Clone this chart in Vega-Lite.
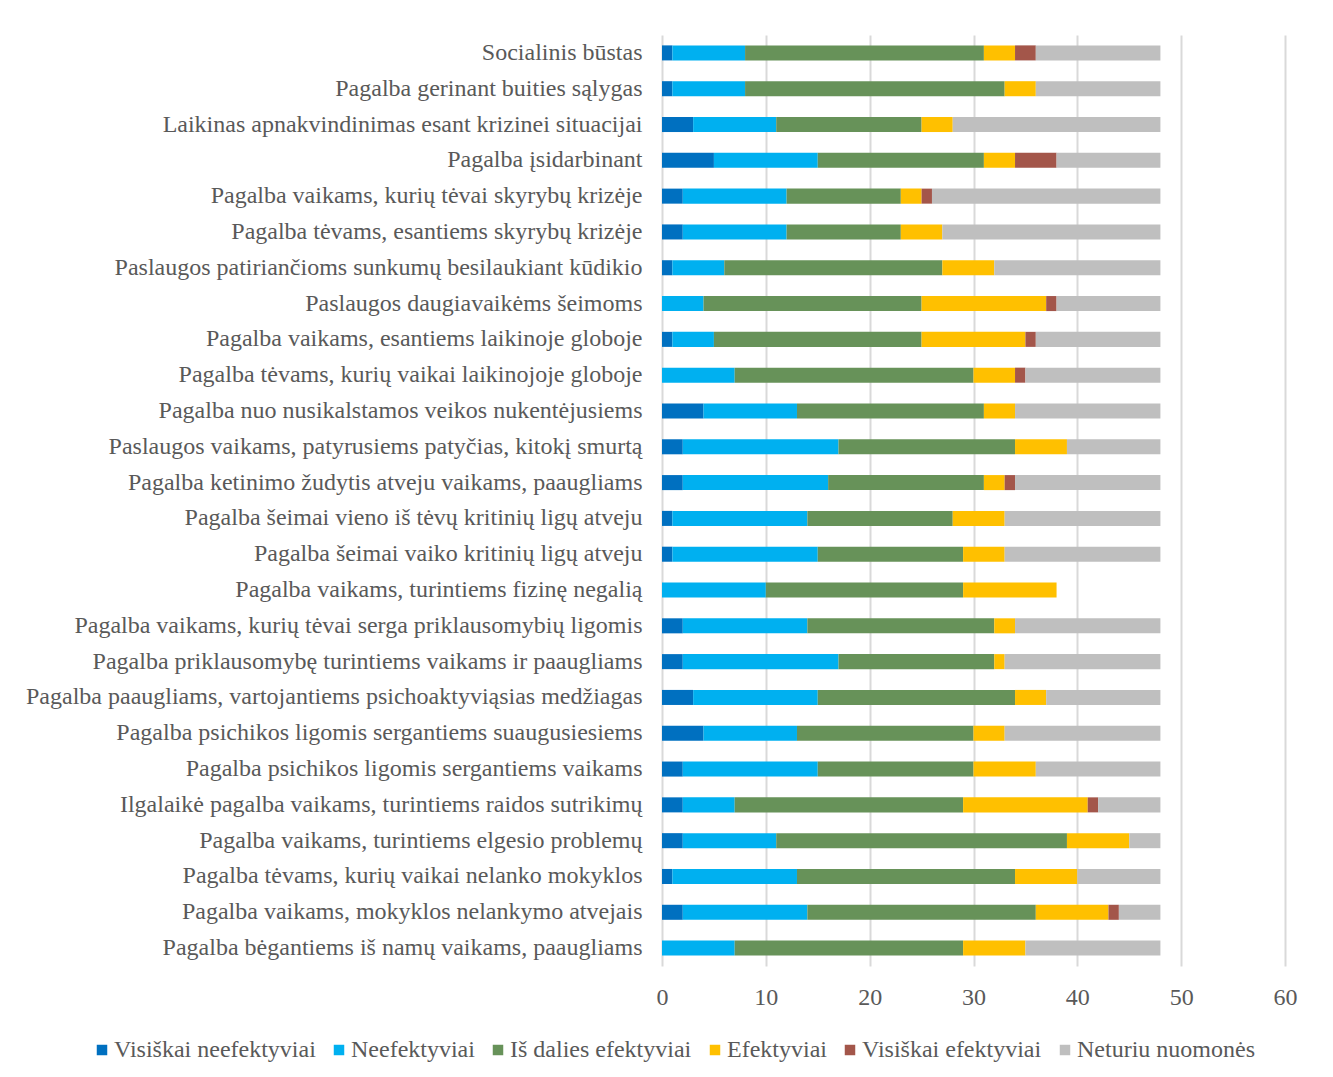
{
  "$schema": "https://vega.github.io/schema/vega-lite/v6.json",
  "autosize": {"type": "none"},
  "width": 623,
  "height": 931,
  "padding": {"left": 662, "top": 35, "right": 48, "bottom": 111},
  "background": "white",
  "config": {
    "font": "Liberation Serif",
    "view": {"stroke": null}
  },
  "datasets": {
    "keys": [
      {"k": "Visiškai neefektyviai", "i": 1},
      {"k": "Neefektyviai", "i": 2},
      {"k": "Iš dalies efektyviai", "i": 3},
      {"k": "Efektyviai", "i": 4},
      {"k": "Visiškai efektyviai", "i": 5},
      {"k": "Neturiu nuomonės", "i": 6}
    ]
  },
  "data": {
    "values": [
      {"s": "Socialinis būstas", "Visiškai neefektyviai": 1, "Neefektyviai": 7, "Iš dalies efektyviai": 23, "Efektyviai": 3, "Visiškai efektyviai": 2, "Neturiu nuomonės": 12},
      {"s": "Pagalba gerinant buities sąlygas", "Visiškai neefektyviai": 1, "Neefektyviai": 7, "Iš dalies efektyviai": 25, "Efektyviai": 3, "Visiškai efektyviai": 0, "Neturiu nuomonės": 12},
      {"s": "Laikinas apnakvindinimas esant krizinei situacijai", "Visiškai neefektyviai": 3, "Neefektyviai": 8, "Iš dalies efektyviai": 14, "Efektyviai": 3, "Visiškai efektyviai": 0, "Neturiu nuomonės": 20},
      {"s": "Pagalba įsidarbinant", "Visiškai neefektyviai": 5, "Neefektyviai": 10, "Iš dalies efektyviai": 16, "Efektyviai": 3, "Visiškai efektyviai": 4, "Neturiu nuomonės": 10},
      {"s": "Pagalba vaikams, kurių tėvai skyrybų krizėje", "Visiškai neefektyviai": 2, "Neefektyviai": 10, "Iš dalies efektyviai": 11, "Efektyviai": 2, "Visiškai efektyviai": 1, "Neturiu nuomonės": 22},
      {"s": "Pagalba tėvams, esantiems skyrybų krizėje", "Visiškai neefektyviai": 2, "Neefektyviai": 10, "Iš dalies efektyviai": 11, "Efektyviai": 4, "Visiškai efektyviai": 0, "Neturiu nuomonės": 21},
      {"s": "Paslaugos patiriančioms sunkumų besilaukiant kūdikio", "Visiškai neefektyviai": 1, "Neefektyviai": 5, "Iš dalies efektyviai": 21, "Efektyviai": 5, "Visiškai efektyviai": 0, "Neturiu nuomonės": 16},
      {"s": "Paslaugos daugiavaikėms šeimoms", "Visiškai neefektyviai": 0, "Neefektyviai": 4, "Iš dalies efektyviai": 21, "Efektyviai": 12, "Visiškai efektyviai": 1, "Neturiu nuomonės": 10},
      {"s": "Pagalba vaikams, esantiems laikinoje globoje", "Visiškai neefektyviai": 1, "Neefektyviai": 4, "Iš dalies efektyviai": 20, "Efektyviai": 10, "Visiškai efektyviai": 1, "Neturiu nuomonės": 12},
      {"s": "Pagalba tėvams, kurių vaikai laikinojoje globoje", "Visiškai neefektyviai": 0, "Neefektyviai": 7, "Iš dalies efektyviai": 23, "Efektyviai": 4, "Visiškai efektyviai": 1, "Neturiu nuomonės": 13},
      {"s": "Pagalba nuo nusikalstamos veikos nukentėjusiems", "Visiškai neefektyviai": 4, "Neefektyviai": 9, "Iš dalies efektyviai": 18, "Efektyviai": 3, "Visiškai efektyviai": 0, "Neturiu nuomonės": 14},
      {"s": "Paslaugos vaikams, patyrusiems patyčias, kitokį smurtą", "Visiškai neefektyviai": 2, "Neefektyviai": 15, "Iš dalies efektyviai": 17, "Efektyviai": 5, "Visiškai efektyviai": 0, "Neturiu nuomonės": 9},
      {"s": "Pagalba ketinimo žudytis atveju vaikams, paaugliams", "Visiškai neefektyviai": 2, "Neefektyviai": 14, "Iš dalies efektyviai": 15, "Efektyviai": 2, "Visiškai efektyviai": 1, "Neturiu nuomonės": 14},
      {"s": "Pagalba šeimai vieno iš tėvų kritinių ligų atveju", "Visiškai neefektyviai": 1, "Neefektyviai": 13, "Iš dalies efektyviai": 14, "Efektyviai": 5, "Visiškai efektyviai": 0, "Neturiu nuomonės": 15},
      {"s": "Pagalba šeimai vaiko kritinių ligų atveju", "Visiškai neefektyviai": 1, "Neefektyviai": 14, "Iš dalies efektyviai": 14, "Efektyviai": 4, "Visiškai efektyviai": 0, "Neturiu nuomonės": 15},
      {"s": "Pagalba vaikams, turintiems fizinę negalią", "Visiškai neefektyviai": 0, "Neefektyviai": 10, "Iš dalies efektyviai": 19, "Efektyviai": 9, "Visiškai efektyviai": 0, "Neturiu nuomonės": 0},
      {"s": "Pagalba vaikams, kurių tėvai serga priklausomybių ligomis", "Visiškai neefektyviai": 2, "Neefektyviai": 12, "Iš dalies efektyviai": 18, "Efektyviai": 2, "Visiškai efektyviai": 0, "Neturiu nuomonės": 14},
      {"s": "Pagalba priklausomybę turintiems vaikams ir paaugliams", "Visiškai neefektyviai": 2, "Neefektyviai": 15, "Iš dalies efektyviai": 15, "Efektyviai": 1, "Visiškai efektyviai": 0, "Neturiu nuomonės": 15},
      {"s": "Pagalba paaugliams, vartojantiems psichoaktyviąsias medžiagas", "Visiškai neefektyviai": 3, "Neefektyviai": 12, "Iš dalies efektyviai": 19, "Efektyviai": 3, "Visiškai efektyviai": 0, "Neturiu nuomonės": 11},
      {"s": "Pagalba psichikos ligomis sergantiems suaugusiesiems", "Visiškai neefektyviai": 4, "Neefektyviai": 9, "Iš dalies efektyviai": 17, "Efektyviai": 3, "Visiškai efektyviai": 0, "Neturiu nuomonės": 15},
      {"s": "Pagalba psichikos ligomis sergantiems vaikams", "Visiškai neefektyviai": 2, "Neefektyviai": 13, "Iš dalies efektyviai": 15, "Efektyviai": 6, "Visiškai efektyviai": 0, "Neturiu nuomonės": 12},
      {"s": "Ilgalaikė pagalba vaikams, turintiems raidos sutrikimų", "Visiškai neefektyviai": 2, "Neefektyviai": 5, "Iš dalies efektyviai": 22, "Efektyviai": 12, "Visiškai efektyviai": 1, "Neturiu nuomonės": 6},
      {"s": "Pagalba vaikams, turintiems elgesio problemų", "Visiškai neefektyviai": 2, "Neefektyviai": 9, "Iš dalies efektyviai": 28, "Efektyviai": 6, "Visiškai efektyviai": 0, "Neturiu nuomonės": 3},
      {"s": "Pagalba tėvams, kurių vaikai nelanko mokyklos", "Visiškai neefektyviai": 1, "Neefektyviai": 12, "Iš dalies efektyviai": 21, "Efektyviai": 6, "Visiškai efektyviai": 0, "Neturiu nuomonės": 8},
      {"s": "Pagalba vaikams, mokyklos nelankymo atvejais", "Visiškai neefektyviai": 2, "Neefektyviai": 12, "Iš dalies efektyviai": 22, "Efektyviai": 7, "Visiškai efektyviai": 1, "Neturiu nuomonės": 4},
      {"s": "Pagalba bėgantiems iš namų vaikams, paaugliams", "Visiškai neefektyviai": 0, "Neefektyviai": 7, "Iš dalies efektyviai": 22, "Efektyviai": 6, "Visiškai efektyviai": 0, "Neturiu nuomonės": 13}
    ]
  },
  "transform": [
    {"fold": ["Visiškai neefektyviai", "Neefektyviai", "Iš dalies efektyviai", "Efektyviai", "Visiškai efektyviai", "Neturiu nuomonės"], "as": ["k", "v"]},
    {"lookup": "k", "from": {"data": {"name": "keys"}, "key": "k", "fields": ["i"]}}
  ],
  "mark": {"type": "bar"},
  "encoding": {
    "y": {
      "field": "s", "type": "nominal", "sort": null, "title": null,
      "scale": {"paddingInner": 0.58, "paddingOuter": 0.29},
      "axis": {"ticks": false, "domain": false, "labelPadding": 20, "labelFontSize": 24, "labelColor": "#595959", "labelFont": "Liberation Serif", "labelLimit": 800}
    },
    "x": {
      "field": "v", "type": "quantitative", "stack": "zero", "title": null,
      "scale": {"domain": [0, 60], "nice": false},
      "axis": {"values": [0, 10, 20, 30, 40, 50, 60], "ticks": false, "domain": false, "grid": true, "gridColor": "#D9D9D9", "gridWidth": 2, "labelPadding": 19, "labelFlush": false, "labelFontSize": 24, "labelColor": "#595959", "labelFont": "Liberation Serif"}
    },
    "color": {
      "field": "k", "type": "nominal",
      "sort": ["Visiškai neefektyviai", "Neefektyviai", "Iš dalies efektyviai", "Efektyviai", "Visiškai efektyviai", "Neturiu nuomonės"],
      "scale": {
        "domain": ["Visiškai neefektyviai", "Neefektyviai", "Iš dalies efektyviai", "Efektyviai", "Visiškai efektyviai", "Neturiu nuomonės"],
        "range": ["#0070C0", "#00B0F0", "#679259", "#FFC000", "#A3564A", "#BFBFBF"]
      },
      "legend": {
        "title": null, "orient": "none", "direction": "horizontal",
        "legendX": -572, "legendY": 1003,
        "symbolType": "square", "symbolSize": 110, "symbolStrokeWidth": 0,
        "labelFontSize": 24, "labelColor": "#595959", "labelFont": "Liberation Serif",
        "labelOffset": 0, "columnPadding": 11, "labelLimit": 400
      }
    },
    "order": {"field": "i", "type": "quantitative", "sort": "ascending"}
  }
}
